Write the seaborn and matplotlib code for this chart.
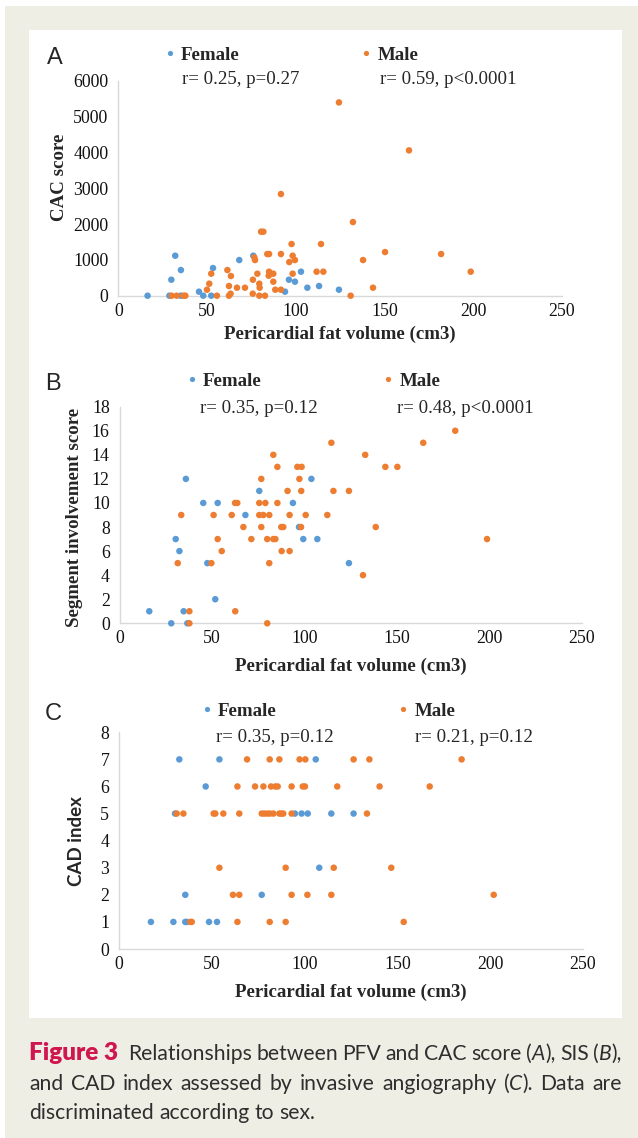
import numpy as np
import pandas as pd
import matplotlib
matplotlib.use("Agg")
import matplotlib.pyplot as plt
import seaborn as sns
from matplotlib.patches import Rectangle

# ---------------- data ----------------
# A: CAC score vs pericardial fat volume
a_female_pfv = [16.5, 28.8, 32.1, 29.9, 35.3, 35.2, 45.5, 47.9, 52.4, 53.4, 68.2, 76.1,
                94.0, 96.2, 99.6, 103.0, 106.6, 113.2, 124.4]
a_female_cac = [0, 0, 1116, 446, 716, 0, 112, 0, 0, 772, 995, 1116,
                112, 446, 391, 670, 223, 270, 167]
a_male_pfv = [124.4, 163.9, 91.7, 132.3, 80.5, 81.8, 97.7, 114.3, 150.4, 182.0, 84.0, 85.0,
              91.7, 76.7, 77.1, 98.3, 99.6, 96.4, 138.0, 61.5, 63.5, 52.4, 78.4, 85.0,
              87.4, 84.8, 98.3, 111.8, 115.6, 198.7, 51.3, 50.0, 62.4, 66.9, 71.4, 75.9,
              79.5, 79.7, 87.4, 88.5, 91.7, 143.6, 63.3, 62.4, 55.6, 75.8, 79.5, 82.7,
              30.1, 32.9, 36.7, 37.8, 131.0]
a_male_cac = [5394, 4055, 2837, 2055, 1786, 1786, 1442, 1442, 1218, 1163, 1163, 1163,
              1163, 1070, 995, 1116, 995, 939, 995, 716, 549, 614, 614, 670,
              614, 558, 614, 670, 670, 670, 335, 167, 270, 223, 223, 446,
              335, 223, 391, 167, 167, 223, 56, 0, 0, 56, 0, 0,
              0, 0, 0, 0, 0]

# B: segment involvement score
b_female_pfv = [16.1, 28.0, 34.7, 36.7, 35.9, 30.4, 32.4, 45.3, 47.5, 51.8, 53.1, 68.1,
                75.6, 93.8, 97.1, 99.4, 103.8, 107.0, 124.1]
b_female_sis = [1, 0, 1, 0, 12, 7, 6, 10, 5, 2, 10, 9,
                11, 10, 8, 7, 12, 7, 5]
b_male_pfv = [37.8, 37.8, 31.5, 33.4, 49.7, 50.9, 53.1, 55.3, 60.7, 62.5, 63.7, 62.6,
              67.0, 71.3, 75.6, 75.6, 76.7, 76.7, 77.8, 78.9, 79.9, 79.9, 81.0, 81.0,
              83.2, 83.2, 84.3, 85.4, 85.4, 87.5, 88.6, 87.7, 90.9, 92.0, 92.0, 96.2,
              98.5, 97.3, 98.3, 98.2, 100.7, 112.4, 114.6, 115.7, 124.1, 131.7, 132.9,
              138.6, 143.8, 150.3, 164.3, 181.6, 198.8]
b_male_sis = [1, 0, 5, 9, 5, 9, 7, 6, 9, 10, 10, 1,
              8, 7, 10, 9, 12, 8, 9, 10, 7, 0, 9, 5,
              14, 7, 7, 13, 10, 8, 8, 6, 11, 9, 6, 13,
              13, 12, 11, 8, 9, 9, 15, 11, 11, 4, 14,
              8, 13, 13, 15, 16, 7]

# C: CAD index
c_female_pfv = [32.5, 54.1, 106.0, 46.7, 30.2, 94.8, 98.4, 101.7, 114.4, 126.4,
                107.9, 35.7, 76.9, 17.2, 29.3, 35.7, 36.5, 48.5, 52.8]
c_female_cad = [7, 7, 7, 6, 5, 5, 5, 5, 5, 5,
                3, 2, 2, 1, 1, 1, 1, 1, 1]
c_male_pfv = [69.0, 81.2, 86.4, 97.3, 100.4, 126.4, 134.9, 184.6,
              63.8, 73.3, 77.8, 81.9, 84.2, 85.5, 93.0, 99.0, 100.2, 117.6, 140.4, 167.4,
              31.1, 34.7, 51.0, 51.9, 56.2, 64.8, 76.9, 78.3, 79.9, 81.4, 83.2, 86.4,
              87.5, 88.5, 93.0, 133.6,
              54.1, 89.8, 115.7, 146.7,
              61.4, 64.8, 93.0, 101.5, 114.4, 201.9,
              38.4, 39.2, 63.8, 81.2, 89.8, 153.4]
c_male_cad = [7] * 8 + [6] * 12 + [5] * 16 + [3] * 4 + [2] * 6 + [1] * 6

stats_a = ["r= 0.25, p=0.27", "r= 0.59, p<0.0001"]
stats_b = ["r= 0.35, p=0.12", "r= 0.48, p<0.0001"]
stats_c = ["r= 0.35, p=0.12", "r= 0.21, p=0.12"]


def make_df(f_x, f_y, m_x, m_y):
    return pd.DataFrame({
        "pfv": list(f_x) + list(m_x),
        "val": list(f_y) + list(m_y),
        "sex": ["Female"] * len(f_x) + ["Male"] * len(m_x),
    })


df_a = make_df(a_female_pfv, a_female_cac, a_male_pfv, a_male_cac)
df_b = make_df(b_female_pfv, b_female_sis, b_male_pfv, b_male_sis)
df_c = make_df(c_female_pfv, c_female_cad, c_male_pfv, c_male_cad)

# ---------------- figure ----------------
sns.set_style("white")
plt.rcParams["font.family"] = ["Liberation Serif", "DejaVu Serif"]

W, H = 638, 1138
BEIGE = "#efeee5"
AXIS_GREY = "#d9d9d9"
palette = {"Female": "#5b9bd5", "Male": "#ed7d31"}
TXT = 13.6   # serif annotation / label size
TICK = 12.8


def fx(x):
    return x / W


def fy(y):
    return 1 - y / H


fig = plt.figure(figsize=(W / 100, H / 100), dpi=100, facecolor="white")
fig.patches.append(Rectangle((fx(5), 0), 1 - fx(5), fy(6), transform=fig.transFigure,
                             facecolor=BEIGE, edgecolor="none", zorder=-2))
fig.patches.append(Rectangle((fx(29), fy(1018)), fx(622) - fx(29), fy(30) - fy(1018),
                             transform=fig.transFigure, facecolor="white",
                             edgecolor="none", zorder=-1))

panels = [
    dict(df=df_a, letter="A", box=(118.3, 80.7, 561.7, 295.7), ylim=(0, 6000),
         yticks=np.arange(0, 6001, 1000), ylabel="CAC score", yfont="serif",
         ylab_xy=(-0.113, 0.55), xlab_y=-0.140, letter_xy=(55, 58),
         leg=(170, 55), stats=stats_a, stat_y=80, stat_x=(182, 380)),
    dict(df=df_b, letter="B", box=(119.5, 406.7, 581.7, 623.3), ylim=(0, 18),
         yticks=np.arange(0, 19, 2), ylabel="Segment involvement score", yfont="serif",
         ylab_xy=(-0.080, 0.49), xlab_y=-0.160, letter_xy=(53, 384),
         leg=(192, 381), stats=stats_b, stat_y=408, stat_x=(200, 397)),
    dict(df=df_c, letter="C", box=(119.0, 732.3, 583.0, 949.0), ylim=(0, 8),
         yticks=np.arange(0, 9, 1), ylabel="CAD index", yfont="sans",
         ylab_xy=(-0.073, 0.5), xlab_y=-0.160, letter_xy=(53, 714),
         leg=(207, 711), stats=stats_c, stat_y=737, stat_x=(216, 415)),
]

for p in panels:
    x0, y0, x1, y1 = p["box"]
    ax = fig.add_axes([fx(x0), fy(y1), fx(x1) - fx(x0), fy(y0) - fy(y1)])
    ax.set_facecolor("none")
    sns.scatterplot(data=p["df"], x="pfv", y="val", hue="sex", hue_order=["Female", "Male"],
                    palette=palette, s=22, linewidth=0, ax=ax, clip_on=False, zorder=3)
    ax.set_xlim(0, 250)
    ax.set_ylim(*p["ylim"])
    ax.set_xticks(np.arange(0, 251, 50))
    ax.set_yticks(p["yticks"])
    ax.tick_params(length=0, labelsize=TICK, colors="#111111")
    ax.tick_params(axis="y", pad=7)
    ax.tick_params(axis="x", pad=5)
    for side in ["top", "right"]:
        ax.spines[side].set_visible(False)
    for side in ["left", "bottom"]:
        ax.spines[side].set_color(AXIS_GREY)
        ax.spines[side].set_linewidth(1.0)

    ax.set_xlabel("Pericardial fat volume (cm3)", fontsize=TXT, fontweight="bold")
    ax.xaxis.set_label_coords(0.5, p["xlab_y"])
    if p["yfont"] == "sans":
        ax.set_ylabel(p["ylabel"], fontsize=13.5, fontweight="bold", family=["Lato", "DejaVu Sans"])
    else:
        ax.set_ylabel(p["ylabel"], fontsize=TXT, fontweight="bold")
    ax.yaxis.set_label_coords(*p["ylab_xy"])

    sns.move_legend(ax, "center left", bbox_to_anchor=(fx(p["leg"][0] - 6), fy(p["leg"][1])),
                    bbox_transform=fig.transFigure, ncol=2, title=None, frameon=False,
                    columnspacing=6.4, handletextpad=0.3, handlelength=0.6,
                    borderpad=0, borderaxespad=0, markerscale=0.8,
                    prop=dict(family="Liberation Serif", weight="bold", size=TXT))

    fig.text(fx(p["letter_xy"][0]), fy(p["letter_xy"][1]), p["letter"], fontsize=17,
             family="Liberation Sans", ha="center", va="center")
    for sx, txt in zip(p["stat_x"], p["stats"]):
        fig.text(fx(sx), fy(p["stat_y"]), txt, fontsize=TXT, ha="left", va="center")

# ---------------- caption ----------------
CAP_RED = "#d0164f"
CAP_GREY = "#2e2e2e"
CAP_SIZE = 15.2
cap_styles = {
    "b": dict(weight="heavy", color=CAP_RED, fontsize=17.5),
    "n": dict(color=CAP_GREY, fontsize=CAP_SIZE),
    "i": dict(style="italic", color=CAP_GREY, fontsize=CAP_SIZE),
}


def plain(s):
    return [[(w, "n")] for w in s.split()]


cap_line1 = ([[("Figure 3", "b")]] + plain("Relationships between PFV and CAC score")
             + [[("(", "n"), ("A", "i"), ("),", "n")]] + plain("SIS")
             + [[("(", "n"), ("B", "i"), ("),", "n")]])
cap_line2 = (plain("and CAD index assessed by invasive angiography")
             + [[("(", "n"), ("C", "i"), (").", "n")]] + plain("Data are"))
cap_line3 = plain("discriminated according to sex.")

renderer = fig.canvas.get_renderer()
cap_left, cap_right = 29, 622

probe2 = fig.text(0, 0, "a a", fontsize=CAP_SIZE, family="Lato")
probe1 = fig.text(0, 0, "aa", fontsize=CAP_SIZE, family="Lato")
SPACE = probe2.get_window_extent(renderer).width - probe1.get_window_extent(renderer).width
probe1.remove()
probe2.remove()


def draw_words(words, y, justify):
    items = []
    widths = []
    for word in words:
        parts = []
        wsum = 0
        for txt, st in word:
            t = fig.text(0, fy(y), txt, family=["Lato", "DejaVu Sans"],
                         va="baseline", ha="left", **cap_styles[st])
            w = t.get_window_extent(renderer).width
            parts.append((t, w))
            wsum += w
        items.append(parts)
        widths.append(wsum)
    gaps = [SPACE] * (len(words) - 1)
    if words[0][0][1] == "b":
        gaps[0] += SPACE
    if justify:
        extra = (cap_right - cap_left) - sum(widths) - sum(gaps)
        gaps = [g + extra / len(gaps) for g in gaps]
    x = cap_left
    for i, parts in enumerate(items):
        for t, w in parts:
            t.set_x(fx(x))
            x += w
        if i < len(gaps):
            x += gaps[i]


draw_words(cap_line1, 1060, True)
draw_words(cap_line2, 1090, True)
draw_words(cap_line3, 1119, False)

fig.savefig("out.png", dpi=100, facecolor=fig.get_facecolor())
